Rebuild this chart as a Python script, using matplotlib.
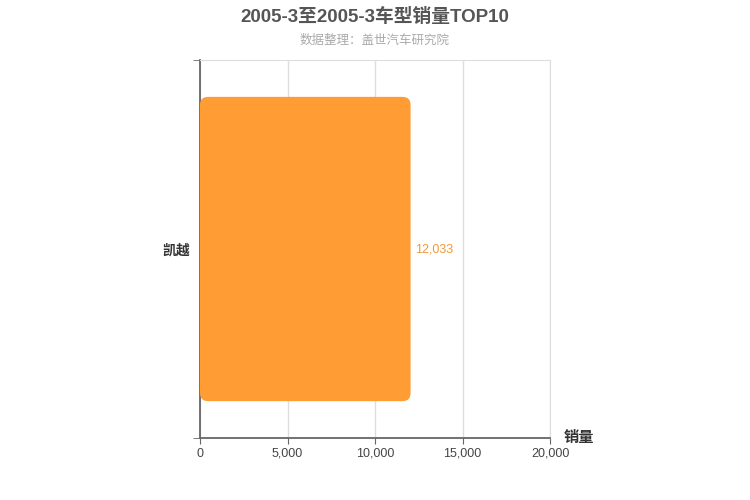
import matplotlib.pyplot as plt
from matplotlib.patches import FancyBboxPatch

plt.rcParams['font.family'] = ['Liberation Sans', 'Noto Sans CJK SC', 'DejaVu Sans']

# 数据
models = ['凯越']
sales = [12033]
xticks = [0, 5000, 10000, 15000, 20000]

fig = plt.figure(figsize=(7.5, 5), dpi=100)
ax = fig.add_axes([200/750, 62/500, 350/750, 378/500])

ax.set_xlim(0, 20000)
ax.set_ylim(-0.5, len(models) - 0.5)

bars = ax.barh(range(len(models)), sales, height=0.805, color='none')

# 圆角柱子
px_x = 20000 / 350.0
px_y = 1.0 / 378.0
for b in bars:
    x0, y0 = b.get_x(), b.get_y()
    w, h = b.get_width(), b.get_height()
    p = FancyBboxPatch((x0, y0), w, h,
                       boxstyle='round,pad=0,rounding_size=%f' % (8 * px_x),
                       mutation_aspect=px_y / px_x,
                       facecolor='#ff9c33', edgecolor='none', zorder=3)
    ax.add_patch(p)
    ax.text(w + 4 * px_x, b.get_y() + h / 2, f'{w:,}', color='#ef9a3a',
            fontsize=9, va='center', ha='left')

ax.set_xticks(xticks)
ax.set_xticklabels([f'{v:,}' for v in xticks], fontsize=9, color='#444444')
ax.set_yticks(range(len(models)))
ax.set_yticklabels(models, fontsize=10, color='#333333', fontweight='bold')
ax.tick_params(axis='y', length=0, pad=7)
ax.tick_params(axis='x', length=4, color='#666666', pad=3)

# y 轴分隔刻度
ax.set_yticks([-0.5, 0.5], minor=True)
ax.tick_params(axis='y', which='minor', length=5, color='#666666')

ax.grid(axis='x', color='#dddddd', linewidth=1, zorder=0)
ax.set_axisbelow(True)

for s in ['left', 'bottom']:
    ax.spines[s].set_color('#666666')
    ax.spines[s].set_linewidth(1.3)
ax.spines['right'].set_color('#dddddd')
ax.spines['top'].set_color('#dddddd')

ax.text(1.04, 0.0, '销量', transform=ax.transAxes, fontsize=11,
        fontweight='bold', color='#333333', ha='left', va='center')

fig.text(0.5, 0.965, '2005-3至2005-3车型销量TOP10', ha='center', va='center',
         fontsize=13.5, fontweight='bold', color='#555555')
fig.text(0.5, 0.918, '数据整理：盖世汽车研究院', ha='center', va='center',
         fontsize=9, color='#aaaaaa')

fig.savefig('out.png', dpi=100)
